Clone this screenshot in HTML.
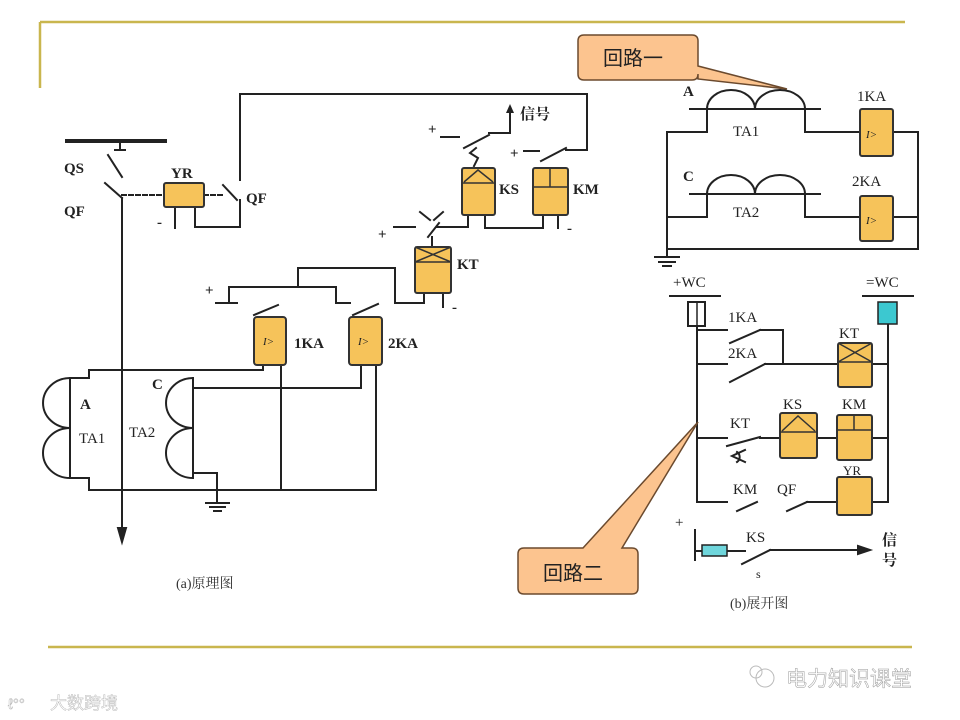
<!DOCTYPE html>
<html><head><meta charset="utf-8"><style>
html,body{margin:0;padding:0;background:#fff;}
svg{display:block;}
.l{font-family:"Liberation Serif","Noto Serif CJK SC",serif;font-weight:bold;font-size:15px;fill:#222;}
.c{font-family:"Liberation Sans","Noto Sans CJK SC",sans-serif;}
</style></head><body>
<svg width="960" height="720" viewBox="0 0 960 720" xmlns="http://www.w3.org/2000/svg">
<g stroke="#c9b64e" stroke-width="2.5" fill="none">
<line x1="40" y1="22" x2="905" y2="22"/><line x1="40" y1="22" x2="40" y2="88"/>
<line x1="48" y1="647" x2="912" y2="647"/>
</g>
<g stroke="#222" stroke-width="2" fill="none" stroke-linecap="square">
<line x1="67" y1="141" x2="165" y2="141" stroke-width="4"/>
<line x1="120" y1="141" x2="120" y2="150"/><line x1="115" y1="150" x2="125" y2="150"/>
<line x1="108" y1="155" x2="122" y2="177"/>
<line x1="105" y1="183" x2="122" y2="198"/>
<line x1="122" y1="198" x2="122" y2="532"/>
<polygon points="118,528 126,528 122,542" fill="#222"/>
<line x1="122" y1="195" x2="164" y2="195" stroke-dasharray="4,3"/>
<line x1="204" y1="195" x2="225" y2="195" stroke-dasharray="4,3"/>
<line x1="223" y1="185" x2="237" y2="200"/>
<line x1="240" y1="200" x2="240" y2="227"/>
<line x1="240" y1="180" x2="240" y2="94"/>
<line x1="175" y1="207" x2="175" y2="228"/>
<polyline points="195,207 195,227 240,227"/>
<polyline points="240,94 587,94 587,150 566,150"/>
<line x1="566" y1="148" x2="541" y2="161"/>
<line x1="524" y1="151" x2="539" y2="151"/>
<line x1="441" y1="137" x2="459" y2="137"/>
<line x1="464" y1="148" x2="489" y2="135"/>
<polyline points="489,133 510,133 510,112"/>
<polyline points="476,148 470,153 478,158 474,166"/>
<line x1="468" y1="215" x2="468" y2="227"/>
<polyline points="485,215 485,228 543,228"/>
<line x1="543" y1="215" x2="543" y2="228"/>
<line x1="558" y1="215" x2="558" y2="228"/>
<line x1="468" y1="227" x2="437" y2="227"/>
<line x1="394" y1="227" x2="415" y2="227"/>
<line x1="428" y1="237" x2="439" y2="223"/>
<line x1="420" y1="212" x2="430" y2="220"/><line x1="443" y1="212" x2="434" y2="220"/>
<line x1="432" y1="237" x2="432" y2="247"/>
<line x1="424" y1="293" x2="424" y2="303"/>
<line x1="443" y1="293" x2="443" y2="307"/>
<polyline points="298,287 298,268 395,268 395,303 424,303"/>
<polyline points="229,303 229,287 336,287 336,303 350,303"/>
<line x1="216" y1="303" x2="237" y2="303"/>
<line x1="254" y1="315" x2="278" y2="305"/>
<line x1="353" y1="315" x2="378" y2="304"/>
<polyline points="263,365 263,370 89,370 89,378 70,378 70,478 89,478 89,490 376,490 376,365"/>
<line x1="281" y1="365" x2="281" y2="490"/>
<polyline points="361,365 361,388 193,388"/>
<line x1="193" y1="378" x2="193" y2="478"/>
<polyline points="193,473 217,473 217,502"/>
<line x1="206" y1="503" x2="229" y2="503"/><line x1="210" y1="507" x2="225" y2="507"/><line x1="214" y1="511" x2="221" y2="511"/>
<path d="M70,378 A27,25 0 0 0 70,428 A27,25 0 0 0 70,478"/>
<path d="M193,378 A27,25 0 0 0 193,428 A27,25 0 0 0 193,478"/>
<line x1="690" y1="109" x2="820" y2="109"/>
<path d="M707,132 L707,109 A24,19 0 0 1 755,109 A25,19 0 0 1 805,109 L805,132"/>
<polyline points="707,132 667,132 667,256"/>
<polyline points="805,132 860,132"/>
<polyline points="893,132 918,132 918,249 667,249"/>
<line x1="690" y1="194" x2="820" y2="194"/>
<path d="M707,217 L707,194 A24,19 0 0 1 755,194 A25,19 0 0 1 805,194 L805,217"/>
<polyline points="707,217 667,217"/>
<polyline points="805,217 860,217"/>
<polyline points="893,217 918,217"/>
<line x1="655" y1="257" x2="679" y2="257"/><line x1="659" y1="262" x2="675" y2="262"/><line x1="663" y1="266" x2="671" y2="266"/>
<line x1="670" y1="296" x2="720" y2="296"/>
<line x1="863" y1="296" x2="913" y2="296"/>
<line x1="697" y1="326" x2="697" y2="502"/>
<line x1="888" y1="324" x2="888" y2="502"/>
<line x1="697" y1="330" x2="727" y2="330"/>
<line x1="730" y1="343" x2="760" y2="330"/>
<polyline points="760,330 783,330 783,364"/>
<line x1="697" y1="364" x2="727" y2="364"/>
<line x1="730" y1="382" x2="765" y2="364"/>
<line x1="765" y1="364" x2="838" y2="364"/>
<line x1="872" y1="364" x2="888" y2="364"/>
<line x1="697" y1="438" x2="727" y2="438"/>
<line x1="727" y1="446" x2="760" y2="437"/>
<path d="M745,450 L732,456 L745,462 M737,452 A6,6 0 0 1 737,462"/>
<line x1="760" y1="438" x2="780" y2="438"/>
<line x1="817" y1="438" x2="837" y2="438"/>
<line x1="872" y1="438" x2="888" y2="438"/>
<line x1="697" y1="502" x2="727" y2="502"/>
<line x1="737" y1="511" x2="757" y2="502"/>
<line x1="787" y1="511" x2="807" y2="502"/>
<line x1="807" y1="502" x2="837" y2="502"/>
<line x1="872" y1="502" x2="888" y2="502"/>
<line x1="695" y1="530" x2="695" y2="560"/>
<line x1="695" y1="551" x2="702" y2="551"/>
<line x1="727" y1="551" x2="745" y2="551"/>
<line x1="742" y1="564" x2="770" y2="550"/>
<line x1="770" y1="550" x2="860" y2="550"/>
<polygon points="858,546 870,550 858,554" fill="#222"/>
</g>
<g stroke="#333" stroke-width="2" fill="#f6c35a">
<rect x="164" y="183" width="40" height="24" rx="2"/>
<rect x="462" y="168" width="33" height="47" rx="2"/>
<rect x="533" y="168" width="35" height="47" rx="2"/>
<rect x="415" y="247" width="36" height="46" rx="2"/>
<rect x="254" y="317" width="32" height="48" rx="3"/>
<rect x="349" y="317" width="33" height="48" rx="3"/>
<rect x="860" y="109" width="33" height="47" rx="2"/>
<rect x="860" y="196" width="33" height="45" rx="2"/>
<rect x="838" y="343" width="34" height="44" rx="2"/>
<rect x="780" y="413" width="37" height="45" rx="2"/>
<rect x="837" y="415" width="35" height="45" rx="2"/>
<rect x="837" y="477" width="35" height="38" rx="2"/>
</g>
<g stroke="#333" stroke-width="1.5" fill="none">
<line x1="462" y1="183" x2="495" y2="183"/><polyline points="464,182 478,170 493,182"/>
<line x1="533" y1="187" x2="568" y2="187"/><line x1="550" y1="168" x2="550" y2="187"/>
<line x1="415" y1="262" x2="451" y2="262"/><line x1="415" y1="247" x2="451" y2="262"/><line x1="451" y1="247" x2="415" y2="262"/>
<line x1="838" y1="362" x2="872" y2="362"/><line x1="838" y1="343" x2="872" y2="362"/><line x1="872" y1="343" x2="838" y2="362"/>
<line x1="780" y1="432" x2="817" y2="432"/><polyline points="782,431 798,416 815,431"/>
<line x1="837" y1="430" x2="872" y2="430"/><line x1="854" y1="415" x2="854" y2="430"/>
</g>
<rect x="688" y="302" width="17" height="24" fill="#fff" stroke="#222" stroke-width="2"/>
<line x1="697" y1="302" x2="697" y2="326" stroke="#222" stroke-width="1.5"/>
<rect x="878" y="302" width="19" height="22" fill="#3cc8d0" stroke="#222" stroke-width="1.5"/>
<rect x="702" y="545" width="25" height="11" fill="#6fd6dc" stroke="#222" stroke-width="1.5"/>
<g class="l">
<text x="64" y="173">QS</text><text x="64" y="216">QF</text>
<text x="171" y="178">YR</text><text x="246" y="203">QF</text>
<text x="428" y="134">+</text><text x="510" y="158">+</text><text x="378" y="239">+</text><text x="205" y="295">+</text>
<text x="157" y="227">-</text><text x="567" y="233">-</text><text x="452" y="312">-</text>
<text x="499" y="194">KS</text><text x="573" y="194">KM</text><text x="457" y="269">KT</text>
<text x="294" y="348">1KA</text><text x="388" y="348">2KA</text>
<text x="80" y="409">A</text><text x="152" y="389">C</text>
<text x="79" y="443" font-weight="normal">TA1</text><text x="129" y="437" font-weight="normal">TA2</text>
<text x="263" y="345" font-size="11" font-weight="normal" font-style="italic">I&gt;</text>
<text x="358" y="345" font-size="11" font-weight="normal" font-style="italic">I&gt;</text>
<text x="683" y="96">A</text><text x="683" y="181">C</text>
<text x="733" y="136" font-weight="normal">TA1</text><text x="733" y="217" font-weight="normal">TA2</text>
<text x="857" y="101" font-weight="normal">1KA</text><text x="852" y="186" font-weight="normal">2KA</text>
<text x="866" y="138" font-size="11" font-weight="normal" font-style="italic">I&gt;</text>
<text x="866" y="224" font-size="11" font-weight="normal" font-style="italic">I&gt;</text>
<text x="673" y="287" font-weight="normal">+WC</text><text x="866" y="287" font-weight="normal">=WC</text>
<text x="728" y="322" font-weight="normal">1KA</text><text x="728" y="358" font-weight="normal">2KA</text>
<text x="839" y="338" font-weight="normal">KT</text>
<text x="730" y="428" font-weight="normal">KT</text><text x="783" y="409" font-weight="normal">KS</text><text x="842" y="409" font-weight="normal">KM</text>
<text x="843" y="475" font-weight="normal" font-size="13">YR</text>
<text x="733" y="494" font-weight="normal">KM</text><text x="777" y="494" font-weight="normal">QF</text>
<text x="675" y="527" font-weight="normal">+</text>
<text x="746" y="542" font-weight="normal">KS</text>
<text x="756" y="578" font-weight="normal" font-size="12">s</text>
</g>
<text x="520" y="119" class="l" style="font-family:'Noto Serif CJK SC',serif">信号</text>
<text x="882" y="545" class="l" font-size="15" style="font-family:'Noto Serif CJK SC',serif">信</text>
<text x="882" y="565" class="l" font-size="15" style="font-family:'Noto Serif CJK SC',serif">号</text>
<polygon points="506,113 510,104 514,113" fill="#222"/>
<text x="176" y="588" font-size="14" fill="#333" style="font-family:'Liberation Serif','Noto Serif CJK SC',serif">(a)原理图</text>
<text x="730" y="608" font-size="14" fill="#333" style="font-family:'Liberation Serif','Noto Serif CJK SC',serif">(b)展开图</text>
<path d="M584,35 H692 Q698,35 698,41 V66 L787,89 L698,79 V74 Q698,80 692,80 H584 Q578,80 578,74 V41 Q578,35 584,35 Z" fill="#fcc48f" stroke="#6b4a2e" stroke-width="1.5"/>
<text x="603" y="65" font-size="20" fill="#222" class="c">回路一</text>
<path d="M524,548 H583 L698,422 L622,548 H632 Q638,548 638,554 V588 Q638,594 632,594 H524 Q518,594 518,588 V554 Q518,548 524,548 Z" fill="#fcc48f" stroke="#6b4a2e" stroke-width="1.5"/>
<text x="543" y="580" font-size="20" fill="#222" class="c">回路二</text>
<text x="786" y="686" font-size="21" fill="#fff" stroke="#999" stroke-width="0.5" class="c">电力知识课堂</text>
<circle cx="765" cy="678" r="9" fill="none" stroke="#bbb" stroke-width="1"/>
<circle cx="756" cy="672" r="6" fill="none" stroke="#bbb" stroke-width="1"/>
<text x="50" y="709" font-size="17" fill="#fff" stroke="#bbb" stroke-width="0.5" class="c">大数跨境</text>
<text x="8" y="709" font-size="15" fill="#fff" stroke="#bbb" stroke-width="0.5" class="c">ℓ°°</text>
</svg>
</body></html>
